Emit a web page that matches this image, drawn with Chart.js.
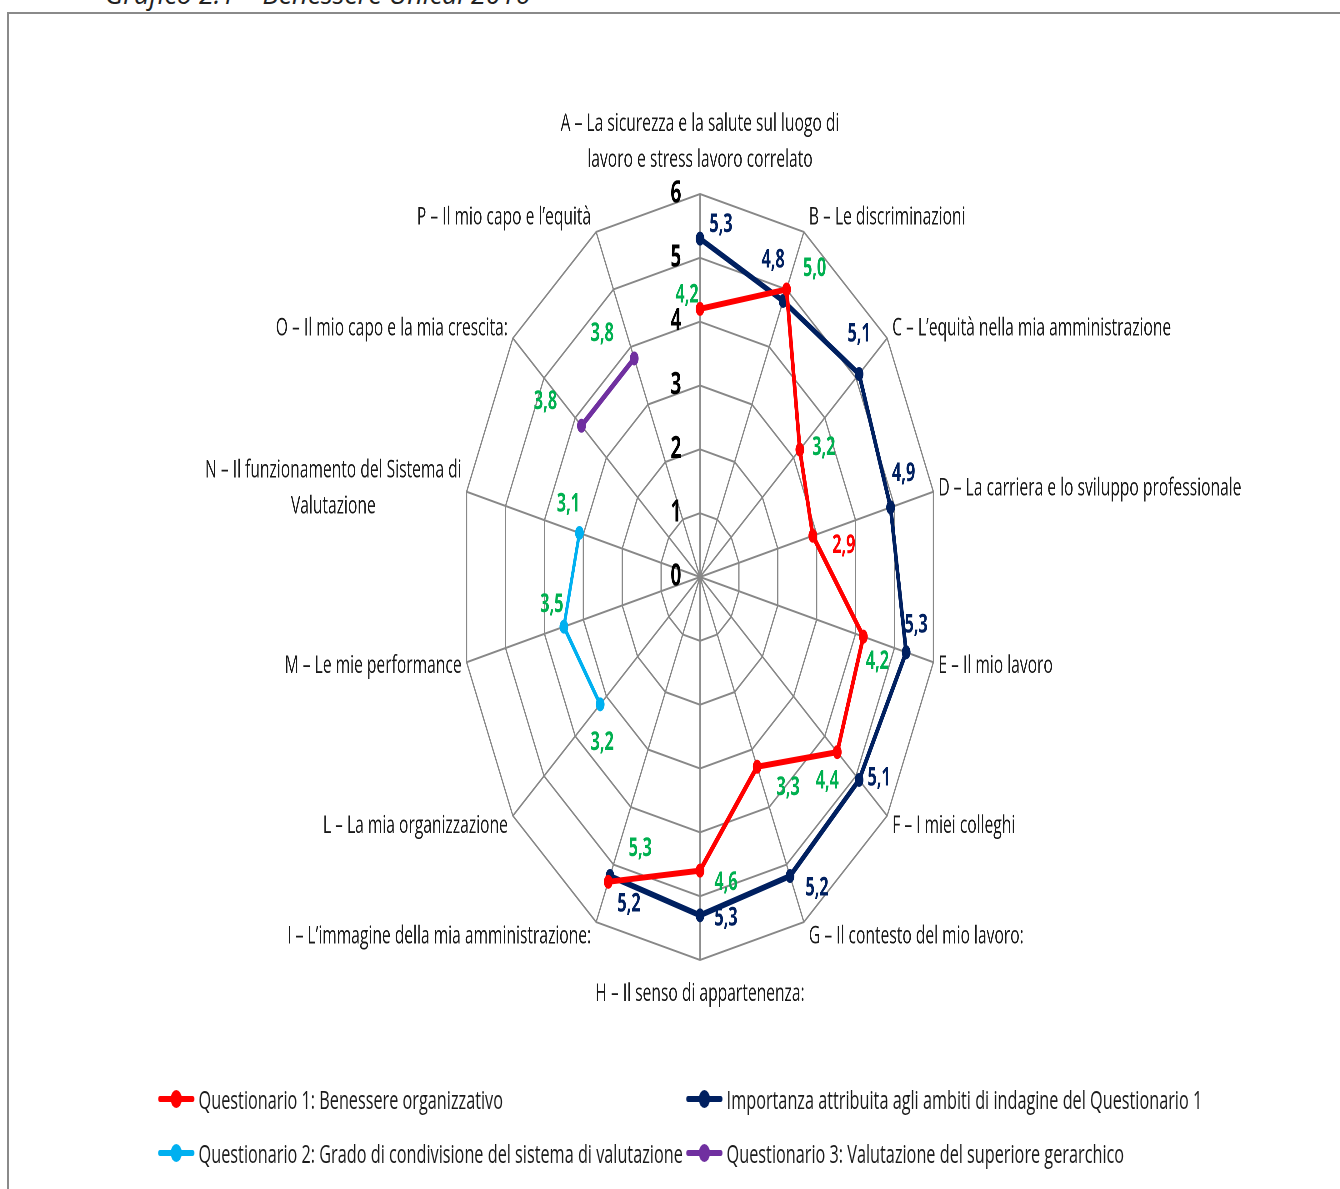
<!DOCTYPE html>
<html>
<head>
<meta charset="utf-8">
<script src="https://cdn.jsdelivr.net/npm/chart.js@4"></script>
<style>
body { margin:0; width:1340px; height:1189px; overflow:hidden; position:relative; background:#fff; font-family:"Open Sans", sans-serif; }
#title { position:absolute; left:105px; top:-20px; font-size:27px; line-height:27px; font-style:italic; color:#222; white-space:nowrap; }
#frame { position:absolute; left:7px; top:12px; width:2000px; height:2000px; border-left:2px solid #8a8a8a; border-top:2px solid #8a8a8a; }
#wrap { position:absolute; left:0; top:0; width:2144px; height:1189px; transform:scaleX(0.625); transform-origin:0 0; }
#c { position:absolute; left:0; top:0; }
.leg { position:absolute; height:40px; display:flex; align-items:center; white-space:nowrap; font-size:26px; color:#1a1a1a; }
.mk { position:relative; width:58px; height:6px; border-radius:3px; margin-right:7px; }
.mk span { position:absolute; left:20px; top:-6px; width:18px; height:18px; border-radius:50%; }
</style>
</head>
<body>
<div id="title">Grafico 2.1 – Benessere Unical 2016</div>
<div id="frame"></div>
<div id="wrap">
  <canvas id="c" width="2144" height="1189"></canvas>
</div>
<script>
// horizontal squeeze of the original picture
const K = 1.6;

const categories = [
  ['A – La sicurezza e la salute sul luogo di', 'lavoro e stress lavoro correlato'],
  ['B – Le discriminazioni'],
  ['C – L’equità nella mia amministrazione'],
  ['D – La carriera e lo sviluppo professionale'],
  ['E – Il mio lavoro'],
  ['F – I miei colleghi'],
  ['G – Il contesto del mio lavoro:'],
  ['H – Il senso di appartenenza:'],
  ['I – L’immagine della mia amministrazione:'],
  ['L – La mia organizzazione'],
  ['M – Le mie performance'],
  ['N – Il funzionamento del Sistema di', 'Valutazione'],
  ['O – Il mio capo e la mia crescita:'],
  ['P – Il mio capo e l’equità']
];

const tickValues = [0, 1, 2, 3, 4, 5, 6];

const seriesNames = [
  'Questionario 1: Benessere organizzativo',
  'Importanza attribuita agli ambiti di indagine del Questionario 1',
  'Questionario 2: Grado di condivisione del sistema di valutazione',
  'Questionario 3: Valutazione del superiore gerarchico'
];

const q1Values = [4.2, 5.0, 3.2, 2.9, 4.2, 4.4, 3.3, 4.6, 5.3, null, null, null, null, null];
const importanceValues = [5.3, 4.8, 5.1, 4.9, 5.3, 5.1, 5.2, 5.3, 5.2, null, null, null, null, null];
const q2Values = [null, null, null, null, null, null, null, null, null, 3.2, 3.5, 3.1, null, null];
const q3Values = [null, null, null, null, null, null, null, null, null, null, null, null, 3.8, 3.8];

const seriesColors = ['#ff0000', '#002060', '#00b0f0', '#7030a0'];
const lineWidths = [6, 6, 5, 6];

// value label look: colour and offset from the point (picture px)
const G = '#00b050';
const labelColors = [
  [G, G, G, '#ff0000', G, G, G, G, G],
  Array(9).fill('#002060'),
  [null, null, null, null, null, null, null, null, null, G, G, G],
  [null, null, null, null, null, null, null, null, null, null, null, null, G, G]
];
const labelOffsets = [
  [[-13,-14],[28,-21],[24,-2],[31,10],[14,25],[-10,29],[31,21],[26,12],[32,-33]],
  [[21,-14],[-10,-41],[0,-40],[13,-34],[10,-27],[20,-2],[27,12],[26,3],[19,28]],
  [,,,,,,,,,[2,38],[-12,-22],[-11,-29]],
  [,,,,,,,,,,,,[-36,-24],[-32,-25]]
];

const seriesValues = [q1Values, importanceValues, q2Values, q3Values];

const labelPlugin = {
  id: 'labelPlugin',
  afterDatasetsDraw(chart) {
    const ctx = chart.ctx;
    const s = chart.scales.r;
    ctx.save();
    ctx.textBaseline = 'middle';

    // scale numbers, left of the vertical axis
    ctx.font = 'bold 30px "Open Sans"';
    ctx.fillStyle = '#000';
    ctx.textAlign = 'right';
    s.ticks.forEach(t => {
      const p = s.getPointPositionForValue(0, t.value);
      ctx.fillText(String(t.value), p.x - 30, p.y);
    });

    // category names
    ctx.font = '25px "Open Sans"';
    ctx.fillStyle = '#1a1a1a';
    const lh = 36;
    categories.forEach((lines, i) => {
      const p = s.getPointPositionForValue(i, 6);
      const a = s.getIndexAngle(i) - Math.PI / 2;
      const cx = Math.cos(a), up = -Math.sin(a);
      if (Math.abs(cx) < 0.05) {
        ctx.textAlign = 'center';
        if (up > 0) {
          lines.forEach((t, j) => ctx.fillText(t, p.x, p.y - 34 - (lines.length - 1 - j) * lh));
        } else {
          lines.forEach((t, j) => ctx.fillText(t, p.x, p.y + 34 + j * lh));
        }
        return;
      }
      const maxW = Math.max(...lines.map(t => ctx.measureText(t).width));
      const ax = cx > 0 ? p.x + 8 : p.x - 8;
      const mid = cx > 0 ? ax + maxW / 2 : ax - maxW / 2;
      const cy = p.y - 16 * up;
      ctx.textAlign = 'center';
      lines.forEach((t, j) => ctx.fillText(t, mid, cy + (j - (lines.length - 1) / 2) * lh));
    });

    // value labels
    ctx.font = 'bold 26px "Open Sans"';
    ctx.textAlign = 'center';
    chart.data.datasets.forEach((ds, di) => {
      const meta = chart.getDatasetMeta(di);
      meta.data.forEach((pt, i) => {
        const v = ds.data[i];
        if (v == null) return;
        const off = labelOffsets[di][i] || [0, -20];
        ctx.fillStyle = labelColors[di][i];
        ctx.fillText(v.toFixed(1).replace('.', ','), pt.x + off[0] * K, pt.y + off[1]);
      });
    });
    ctx.restore();
  }
};

new Chart(document.getElementById('c'), {
  type: 'radar',
  data: {
    labels: categories,
    datasets: seriesValues.map((vals, i) => ({
      label: seriesNames[i],
      data: vals,
      borderColor: seriesColors[i],
      backgroundColor: seriesColors[i],
      pointBackgroundColor: seriesColors[i],
      pointBorderColor: seriesColors[i],
      borderWidth: lineWidths[i],
      pointRadius: 7,
      pointBorderWidth: 0,
      borderJoinStyle: 'round',
      borderCapStyle: 'round',
      fill: false,
      spanGaps: false
    }))
  },
  options: {
    responsive: false,
    animation: false,
    devicePixelRatio: 2,
    plugins: { legend: { display: false }, tooltip: { enabled: false } },
    scales: {
      r: {
        min: 0,
        max: 6,
        ticks: { display: false, stepSize: 1 },
        pointLabels: { display: false },
        grid: { color: '#888888', lineWidth: 2, circular: false },
        angleLines: { color: '#888888', lineWidth: 2 },
        afterFit(scale) {
          scale.xCenter = 700 * K;
          scale.yCenter = 577;
          scale.drawingArea = 383;
        }
      }
    }
  },
  plugins: [labelPlugin]
});

// legend, laid out as two columns like the original
const legendSpots = [[158, 1101], [686, 1101], [158, 1155], [686, 1155]];
const wrap = document.getElementById('wrap');
seriesNames.forEach((name, i) => {
  const d = document.createElement('div');
  d.className = 'leg';
  d.style.left = (legendSpots[i][0] * K) + 'px';
  d.style.top = (legendSpots[i][1] - 22) + 'px';
  d.innerHTML = '<div class="mk" style="background:' + seriesColors[i] + '"><span style="background:' + seriesColors[i] + '"></span></div>' + name;
  wrap.appendChild(d);
});
</script>
</body>
</html>
